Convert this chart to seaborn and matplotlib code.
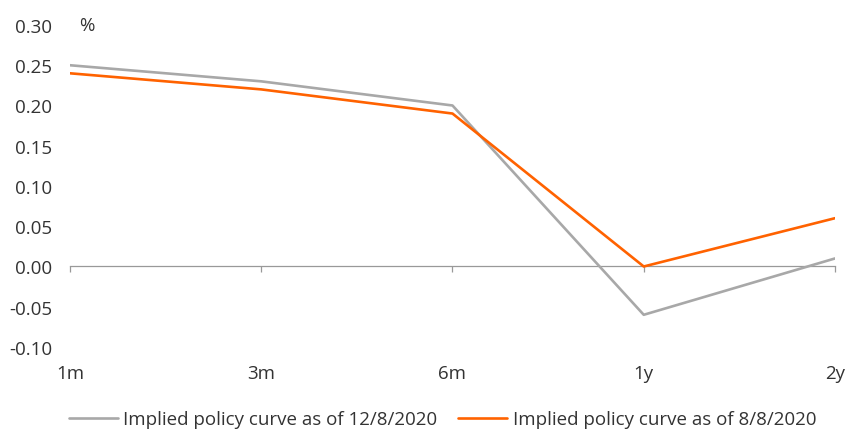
import matplotlib
matplotlib.use("Agg")
import matplotlib.pyplot as plt
import seaborn as sns
import pandas as pd

tenors = ["1m", "3m", "6m", "1y", "2y"]
curve_12aug = [0.25, 0.23, 0.20, -0.06, 0.01]
curve_8aug = [0.24, 0.22, 0.19, 0.00, 0.06]
series_names = ["Implied policy curve as of 12/8/2020", "Implied policy curve as of 8/8/2020"]
yticks = [-0.10, -0.05, 0.00, 0.05, 0.10, 0.15, 0.20, 0.25, 0.30]

df = pd.DataFrame({
    "tenor": tenors * 2,
    "value": curve_12aug + curve_8aug,
    "series": [series_names[0]] * len(tenors) + [series_names[1]] * len(tenors),
})

sns.set_style("white")
plt.rcParams['font.family'] = ['Open Sans', 'DejaVu Sans']
text_color = "#333333"
fs = 13.5

fig = plt.figure(figsize=(8.46, 4.31), dpi=100)
ax = fig.add_axes([0.0827, 0.1926, 0.9043, 0.7471])

palette = {series_names[0]: "#A8A8A8", series_names[1]: "#FF6200"}
sns.lineplot(data=df, x="tenor", y="value", hue="series", palette=palette,
             linewidth=1.9, sort=False, ax=ax, legend=True)

ax.set_ylim(-0.10, 0.30)
ax.set_xlim(0, len(tenors) - 1)
ax.set_yticks(yticks)
ax.set_yticklabels([f"{v:.2f}" for v in yticks])
ax.set_xlabel("")
ax.set_ylabel("")
for s in ax.spines.values():
    s.set_visible(False)
ax.tick_params(axis="both", length=0, labelsize=fs, colors=text_color)
ax.tick_params(axis="y", pad=13)
ax.tick_params(axis="x", pad=12)

# zero line with ticks
sec = ax.secondary_xaxis(0.25)
sec.set_xticks(range(len(tenors)))
sec.set_xticklabels([])
sec.spines["bottom"].set_color("#999999")
sec.spines["bottom"].set_linewidth(0.9)
sec.tick_params(axis="x", length=4, width=0.9, color="#999999", direction="out")
ax.set_zorder(1)
ax.patch.set_visible(False)

ax.text(0.012, 1.0, "%", transform=ax.transAxes, fontsize=fs, color=text_color,
        ha="left", va="center")

handles, labels = ax.get_legend_handles_labels()
leg = ax.legend(handles, labels, loc="center", bbox_to_anchor=(0.487, -0.225),
                ncol=2, frameon=False, fontsize=fs, handlelength=2.6,
                columnspacing=1.1, handletextpad=0.3, labelcolor=text_color)

fig.savefig("out.png", dpi=100)
